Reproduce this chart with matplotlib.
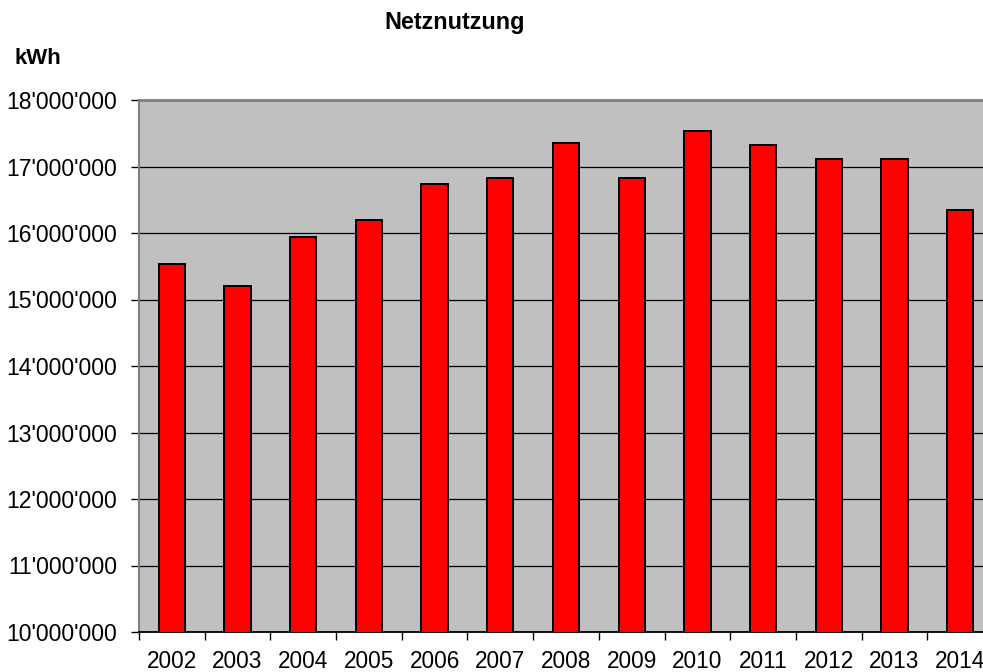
import matplotlib
matplotlib.use("Agg")
import matplotlib.pyplot as plt
from matplotlib.ticker import FuncFormatter, FixedLocator

plt.rcParams['font.family'] = ['Liberation Sans', 'DejaVu Sans']

years = ['2002', '2003', '2004', '2005', '2006', '2007', '2008',
         '2009', '2010', '2011', '2012', '2013', '2014']
values = [15540000, 15210000, 15940000, 16190000, 16730000, 16820000, 17360000,
          16830000, 17540000, 17320000, 17120000, 17120000, 16340000]
y_ticks = [10000000, 11000000, 12000000, 13000000, 14000000, 15000000,
           16000000, 17000000, 18000000]

fig = plt.figure(figsize=(9.83, 6.72), dpi=100)
ax = fig.add_axes([139/983, 40/672, 854/983, 532/672])
ax.set_facecolor('#C0C0C0')

x = list(range(len(years)))
ax.bar(x, values, width=0.40, color='#FF0000', edgecolor='black', linewidth=1.4, zorder=3)

ax.set_xlim(-0.5, len(years) - 0.5)
ax.set_ylim(10000000, 18000000)
ax.set_yticks(y_ticks)
ax.yaxis.set_major_formatter(FuncFormatter(lambda v, p: f"{int(v):,}".replace(",", "'")))
ax.grid(axis='y', color='black', linewidth=0.9, zorder=1)
ax.set_axisbelow(True)

ax.set_xticks(x)
ax.set_xticklabels(years)
ax.xaxis.set_minor_locator(FixedLocator([i - 0.5 for i in range(len(years) + 1)]))
ax.tick_params(axis='x', which='major', length=0, pad=13, labelsize=16.3)
ax.tick_params(axis='x', which='minor', length=6, width=1, color='black', direction='out')
ax.tick_params(axis='y', which='major', length=6, width=1, color='black', pad=10, labelsize=16.6)

ax.spines['top'].set_color('#808080')
ax.spines['top'].set_linewidth(2)
ax.spines['left'].set_color('#808080')
ax.spines['left'].set_linewidth(1.5)
ax.spines['right'].set_visible(False)
ax.spines['bottom'].set_color('black')
ax.spines['bottom'].set_linewidth(1.3)

fig.text(455/983, 1 - 22/672, 'Netznutzung', ha='center', va='center',
         fontsize=16.8, fontweight='bold')
fig.text(15/983, 1 - 58/672, 'kWh', ha='left', va='center',
         fontsize=16, fontweight='bold')

fig.savefig('out.png', dpi=100)
